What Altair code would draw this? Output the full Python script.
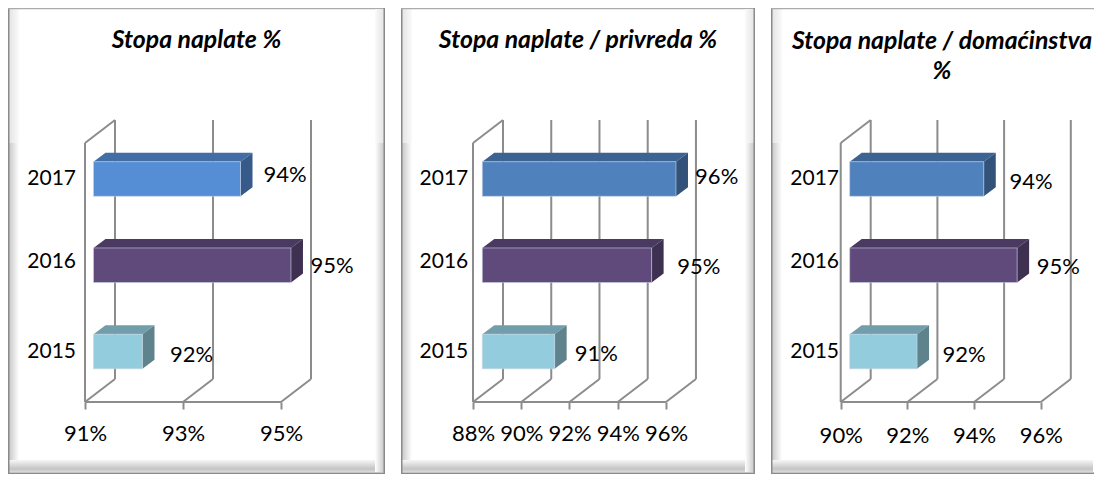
import altair as alt
import pandas as pd

years = ["2015", "2016", "2017"]
titles = [["Stopa naplate %"], ["Stopa naplate / privreda %"], ["Stopa naplate / domaćinstva", "%"]]
ticks_1 = [91, 93, 95]
ticks_2 = [88, 90, 92, 94, 96]
ticks_3 = [90, 92, 94, 96]
values_1 = [92.0, 95.03, 94.0]
values_2 = [91.0, 95.02, 96.03]
values_3 = [92.02, 95.02, 94.02]
labels_1 = ["92%", "95%", "94%"]
labels_2 = ["91%", "95%", "96%"]
labels_3 = ["92%", "95%", "94%"]

FRONT_1 = ["#93CDDD", "#604A7B", "#558ED5"]
FRONT_2 = ["#93CDDD", "#604A7B", "#4F81BD"]
TOP_1 = ["#729EAB", "#4A3960", "#426EA5"]
TOP_2 = ["#729EAB", "#4A3960", "#3D6392"]
SIDE_1 = ["#5F838C", "#3E3050", "#365B8A"]
SIDE_2 = ["#5F838C", "#3E3050", "#335279"]
GRID = "#8C8C8C"
FONT = "Lato"

# page geometry of each panel
H = 466
FRAME_TOP, FRAME_BOT = 8, 474
Y_UNIT = 86.25      # px per category
Y_BASE = 351.5      # page y of the first category
FLOOR = (Y_BASE - 402) / Y_UNIT
WALL_TOP = (Y_BASE - 143) / Y_UNIT
DEPTH_X, DEPTH_Y = 30, 23 / Y_UNIT
BAR_DX, BAR_DY = 12, 9 / Y_UNIT
HALF = 17.3 / Y_UNIT
Y_DOMAIN = [(Y_BASE - FRAME_BOT) / Y_UNIT, (Y_BASE - FRAME_TOP) / Y_UNIT]


def panel(title, ticks, values, labels, front, top, side, width, left_gap, unit, bar_off,
          year_gap, lab_dx, lab_dy, year_dy, title_dx=0, right_edge=True, title_offset=-45, label_pad=14):
    base = ticks[0]
    lo = base - left_gap / unit
    x_scale = alt.Scale(domain=[lo, lo + width / unit], nice=False, zero=False)
    y_scale = alt.Scale(domain=Y_DOMAIN, nice=False, zero=False)
    X = lambda f, **k: alt.X(f, type="quantitative", scale=x_scale, title=None, **k)
    Y = lambda f: alt.Y(f, type="quantitative", scale=y_scale, title=None, axis=None)
    dep = DEPTH_X / unit

    rows = []
    for t in ticks:
        rows.append(dict(x=t + dep, x2=t + dep, y=FLOOR + DEPTH_Y, y2=WALL_TOP + DEPTH_Y))
        rows.append(dict(x=t, x2=t + dep, y=FLOOR, y2=FLOOR + DEPTH_Y))
    rows.append(dict(x=base, x2=base, y=FLOOR, y2=WALL_TOP))
    rows.append(dict(x=base, x2=base + dep, y=WALL_TOP, y2=WALL_TOP + DEPTH_Y))
    rows.append(dict(x=base, x2=ticks[-1], y=FLOOR, y2=FLOOR))
    grid = alt.Chart(pd.DataFrame(rows)).mark_rule(color=GRID, strokeWidth=2).encode(
        x=X("x", axis=alt.Axis(
            values=ticks, labelExpr="datum.value + '%'", domain=False, grid=False,
            ticks=True, tickSize=7, tickColor=GRID, tickWidth=2, labelFont=FONT,
            labelFontSize=22, labelColor="#000000", labelPadding=label_pad, offset=-(FRAME_BOT - 402),
            labelFlush=False, labelOverlap=False)),
        x2="x2", y=Y("y"), y2="y2")

    off = bar_off / unit
    bdx = BAR_DX / unit
    fronts, faces, texts, years_rows = [], [], [], []
    for i, (yr, v, lab) in enumerate(zip(years, values, labels)):
        xa, xb = base + off, v + off
        fronts.append(dict(x=xa, x2=xb, y=i - HALF, y2=i + HALF, c=front[i]))
        t0, t1 = i + HALF, i + HALF + BAR_DY
        for xx, a, b in [(xa, t0, t0), (xa + bdx, t1, t0), (xb, t1, t0), (xb + bdx, t1, t1)]:
            faces.append(dict(x=xx, y=a, y2=b, c=top[i], k=f"t{i}"))
        for xx, a, b in [(xb, t0, i - HALF), (xb + bdx, t1, i - HALF + BAR_DY)]:
            faces.append(dict(x=xx, y=a, y2=b, c=side[i], k=f"s{i}"))
        texts.append(dict(x=xb + lab_dx[i] / unit, y=i + lab_dy[i] / Y_UNIT, t=lab))
        years_rows.append(dict(x=base - year_gap / unit, y=i + year_dy[i] / Y_UNIT, t=yr))

    faces_layer = alt.Chart(pd.DataFrame(faces)).mark_area(interpolate="linear").encode(
        x=X("x"), y=alt.Y("y", type="quantitative", scale=y_scale, title=None, axis=None, stack=None),
        y2="y2", color=alt.Color("c:N", scale=None), detail="k:N")
    fronts_layer = alt.Chart(pd.DataFrame(fronts)).mark_rect(stroke="#C4D2E2", strokeWidth=0.6).encode(
        x=X("x"), x2="x2", y=Y("y"), y2="y2", fill=alt.Fill("c:N", scale=None))
    text_layer = alt.Chart(pd.DataFrame(texts)).mark_text(
        font=FONT, fontSize=22, color="#000000", align="center", baseline="middle").encode(
        x=X("x"), y=Y("y"), text="t:N")
    year_layer = alt.Chart(pd.DataFrame(years_rows)).mark_text(
        font=FONT, fontSize=21, color="#000000", align="right", baseline="middle").encode(
        x=X("x"), y=Y("y"), text="t:N")

    one = pd.DataFrame({"a": [0]})
    def grad(stops, horizontal):
        return alt.Gradient(gradient="linear", x1=0, y1=0, x2=1 if horizontal else 0, y2=0 if horizontal else 1,
                            stops=[alt.GradientStop(color=c, offset=o) for o, c in stops])
    def band(x0, x1, y0, y1, fill):
        return alt.Chart(one).mark_rect(fill=fill, opacity=1).encode(
            x=alt.value(x0), x2=alt.value(x1), y=alt.value(y0), y2=alt.value(y1))
    frame = [
        band(1, 11, 135, H - 2, grad([(0, "#C8C8C8"), (1, "#FFFFFF")], True)),
        band(1, 11, 1, 135, grad([(0, "#E4E4E4"), (1, "#FAFAFA")], True)),
        band(1, width - 1, H - 14, H - 2, grad([(0, "#F6F6F6"), (0.75, "#C4C4C4"), (1, "#DADADA")], False)),
        band(0, 1.5, 0, H, "#8A8A8A"),
        band(0, width, H - 1.5, H, "#8A8A8A"),
        band(0, width, 0, 1.2, "#ABABAB"),
    ]
    if right_edge:
        frame += [
            band(width - 10, width - 1, 135, H - 2, grad([(0, "#FFFFFF"), (1, "#C8C8C8")], True)),
            band(width - 10, width - 1, 1, 135, grad([(0, "#FAFAFA"), (1, "#E4E4E4")], True)),
            band(width - 1.5, width, 0, H, "#8A8A8A"),
        ]

    return alt.layer(*frame, grid, faces_layer, fronts_layer, text_layer, year_layer).properties(
        width=width, height=H,
        title=alt.TitleParams(
            text=title, font=FONT, fontSize=24.8, fontStyle="italic", fontWeight="bold", color="#000000",
            anchor="middle", frame="group", offset=title_offset, lineHeight=30, dx=title_dx),
    ).resolve_scale(color="independent", fill="independent")


p1 = panel(titles[0], ticks_1, values_1, labels_1, FRONT_1, TOP_1, SIDE_1, 377, 77, 49.0, 8.5,
           9, [49, 41, 44.6], [-3.2, -1.2, 4.3], [-0.5, 3.7, -0.3])
p2 = panel(titles[1], ticks_2, values_2, labels_2, FRONT_2, TOP_2, SIDE_2, 354, 72, 24.12, 9.3,
           4.7, [41.7, 47.3, 40.7], [-2, -1.5, 2.1], [-0.5, 3.5, -0.3])
p3 = panel(titles[2], ticks_3, values_3, labels_3, FRONT_2, TOP_2, SIDE_2, 323, 69.7, 33.35, 9.0,
           1.7, [47, 41.3, 47.3], [-3, -2.2, -3.2], [-0.5, 3.5, -0.3], title_dx=9.5, right_edge=False,
           title_offset=-76, label_pad=16)

chart = alt.hconcat(p1, p2, p3, spacing=16).properties(padding=0).configure_view(stroke=None).configure_concat(spacing=16)
chart.save("out.html", embed_options={"renderer": "svg", "actions": False})
